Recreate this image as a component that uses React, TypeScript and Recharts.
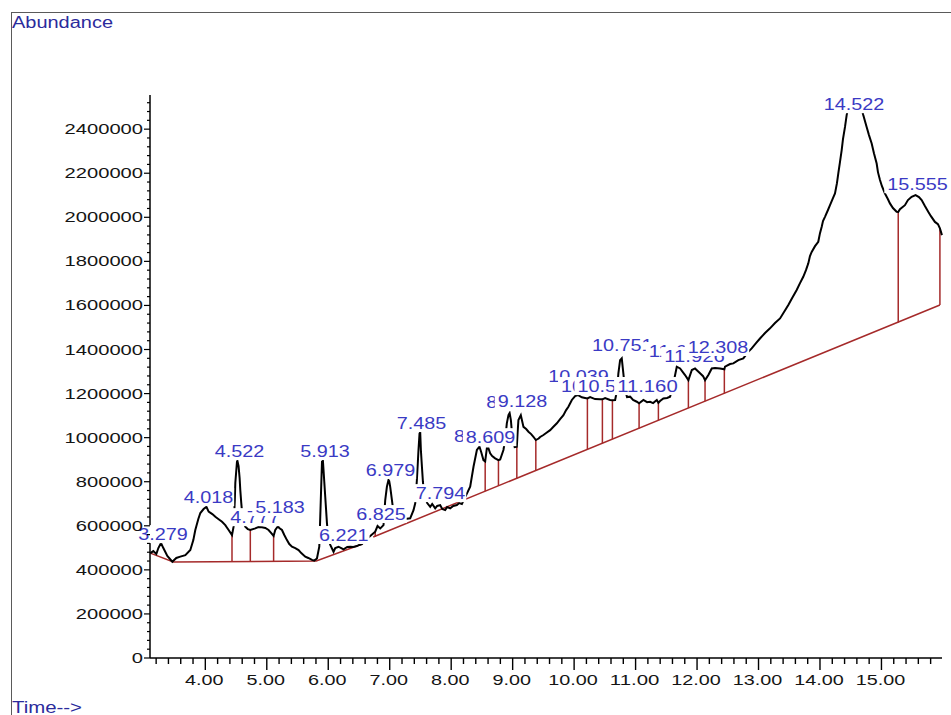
import React from 'react';
import { ComposedChart, Line, Scatter, XAxis, YAxis, ReferenceLine } from 'recharts';

// TIC trace, [retention time (min), abundance]
const trace: [number, number][] = [
  [3.106, 476000], [3.154, 485000], [3.203, 472000], [3.236, 499000], [3.279, 522000], [3.317, 499000],
  [3.382, 463000], [3.463, 437000], [3.528, 454000], [3.593, 460000], [3.675, 467000], [3.756, 490000],
  [3.805, 535000], [3.837, 581000], [3.886, 631000], [3.919, 658000], [3.972, 676000], [4.018, 686000],
  [4.054, 664000], [4.114, 653000], [4.163, 641000], [4.211, 631000], [4.272, 618000], [4.325, 603000],
  [4.379, 581000], [4.434, 558000], [4.46, 596000], [4.48, 717000], [4.488, 794000], [4.515, 891000],
  [4.522, 895000], [4.541, 871000], [4.558, 817000], [4.569, 762000], [4.585, 703000], [4.602, 649000],
  [4.634, 608000], [4.65, 596000], [4.691, 585000], [4.732, 581000], [4.813, 588000], [4.862, 594000],
  [4.922, 593000], [4.976, 590000], [5.029, 581000], [5.073, 567000], [5.111, 554000], [5.138, 581000],
  [5.183, 598000], [5.203, 590000], [5.247, 581000], [5.285, 558000], [5.328, 535000], [5.366, 517000],
  [5.41, 505000], [5.463, 499000], [5.517, 490000], [5.561, 476000], [5.626, 460000], [5.675, 454000],
  [5.735, 445000], [5.772, 442000], [5.816, 452000], [5.854, 505000], [5.87, 641000], [5.898, 891000],
  [5.913, 895000], [5.923, 853000], [5.951, 732000], [5.979, 611000], [6.005, 535000], [6.033, 513000],
  [6.086, 482000], [6.114, 499000], [6.167, 505000], [6.211, 499000], [6.249, 493000], [6.309, 504000],
  [6.358, 505000], [6.407, 504000], [6.467, 508000], [6.504, 513000], [6.548, 517000], [6.602, 535000],
  [6.683, 554000], [6.764, 573000], [6.802, 599000], [6.846, 588000], [6.899, 603000], [6.927, 717000],
  [6.954, 777000], [6.98, 808000], [6.992, 803000], [7.008, 777000], [7.036, 717000], [7.057, 671000],
  [7.106, 626000], [7.171, 635000], [7.252, 631000], [7.333, 634000], [7.387, 671000], [7.415, 702000],
  [7.442, 808000], [7.468, 944000], [7.485, 1019000], [7.496, 1025000], [7.507, 944000], [7.524, 868000],
  [7.54, 800000], [7.561, 740000], [7.61, 703000], [7.659, 686000], [7.691, 699000], [7.74, 679000],
  [7.772, 690000], [7.821, 694000], [7.854, 676000], [7.902, 671000], [7.935, 685000], [7.984, 679000],
  [8.033, 690000], [8.093, 694000], [8.13, 703000], [8.174, 699000], [8.228, 730000], [8.309, 777000],
  [8.363, 868000], [8.418, 944000], [8.46, 959000], [8.488, 935000], [8.525, 898000], [8.553, 892000],
  [8.58, 951000], [8.607, 951000], [8.634, 929000], [8.667, 916000], [8.715, 906000], [8.769, 898000],
  [8.797, 901000], [8.85, 944000], [8.878, 989000], [8.905, 1065000], [8.932, 1102000], [8.951, 1112000],
  [8.971, 1080000], [8.992, 1012000], [9.033, 957000], [9.068, 959000], [9.081, 1025000], [9.094, 1080000],
  [9.133, 1102000], [9.176, 1049000], [9.22, 1039000], [9.257, 1027000], [9.301, 1016000], [9.338, 1004000],
  [9.377, 989000], [9.423, 996000], [9.447, 1003000], [9.501, 1012000], [9.545, 1021000], [9.61, 1034000],
  [9.659, 1048000], [9.719, 1065000], [9.772, 1084000], [9.826, 1102000], [9.87, 1125000], [9.907, 1140000],
  [9.963, 1171000], [10.016, 1189000], [10.065, 1193000], [10.125, 1183000], [10.179, 1180000], [10.216, 1178000],
  [10.26, 1184000], [10.341, 1175000], [10.423, 1174000], [10.46, 1174000], [10.504, 1180000], [10.585, 1171000],
  [10.623, 1170000], [10.667, 1171000], [10.699, 1216000], [10.72, 1292000], [10.748, 1352000], [10.775, 1360000],
  [10.801, 1292000], [10.829, 1216000], [10.861, 1184000], [10.911, 1186000], [10.959, 1171000], [11.02, 1163000],
  [11.057, 1156000], [11.127, 1171000], [11.187, 1161000], [11.236, 1163000], [11.285, 1157000], [11.345, 1171000],
  [11.371, 1158000], [11.398, 1166000], [11.452, 1178000], [11.512, 1180000], [11.561, 1186000], [11.61, 1239000],
  [11.67, 1322000], [11.724, 1314000], [11.805, 1284000], [11.859, 1261000], [11.915, 1307000], [11.967, 1314000],
  [12.049, 1292000], [12.098, 1279000], [12.13, 1261000], [12.184, 1284000], [12.239, 1314000], [12.293, 1316000],
  [12.374, 1314000], [12.444, 1310000], [12.455, 1322000], [12.537, 1334000], [12.59, 1337000], [12.672, 1352000],
  [12.753, 1360000], [12.829, 1388000], [12.889, 1405000], [12.959, 1429000], [13.024, 1450000], [13.106, 1475000],
  [13.187, 1496000], [13.268, 1520000], [13.35, 1541000], [13.415, 1570000], [13.485, 1602000], [13.545, 1633000],
  [13.621, 1670000], [13.675, 1701000], [13.728, 1730000], [13.772, 1760000], [13.81, 1791000], [13.837, 1824000],
  [13.865, 1843000], [13.919, 1869000], [13.972, 1889000], [14.0, 1928000], [14.028, 1957000], [14.049, 1983000],
  [14.081, 2002000], [14.13, 2033000], [14.163, 2055000], [14.211, 2087000], [14.244, 2108000], [14.276, 2155000],
  [14.298, 2199000], [14.325, 2250000], [14.353, 2305000], [14.374, 2355000], [14.407, 2410000], [14.434, 2464000],
  [14.472, 2513000], [14.522, 2536000], [14.569, 2541000], [14.618, 2532000], [14.667, 2504000], [14.704, 2464000],
  [14.759, 2410000], [14.797, 2373000], [14.841, 2335000], [14.878, 2291000], [14.922, 2244000], [14.943, 2205000],
  [14.976, 2169000], [15.008, 2141000], [15.057, 2108000], [15.106, 2082000], [15.138, 2063000], [15.187, 2042000],
  [15.247, 2025000], [15.273, 2024000], [15.301, 2037000], [15.382, 2055000], [15.431, 2078000], [15.491, 2093000],
  [15.555, 2101000], [15.61, 2092000], [15.654, 2078000], [15.707, 2051000], [15.761, 2025000], [15.805, 2005000],
  [15.87, 1979000], [15.919, 1969000], [15.951, 1950000], [15.984, 1919000],
];

// integration baseline (null = break between the two stretches)
const baseTime = [3.106, 3.48, 5.805, 6.553, 6.64, 6.732, 15.951];
const baseAbund = [476000, 436000, 440000, 517000, null, 549000, 1602000];

// drop lines: time, trace level, baseline level
const dropTime = [4.434, 4.732, 5.111, 6.764, 8.553, 8.769, 9.068, 9.377, 10.216, 10.46, 10.623, 11.057, 11.371, 11.859, 12.13, 12.444, 15.273, 15.951];
const dropTop = [558000, 581000, 554000, 573000, 892000, 898000, 959000, 989000, 1178000, 1174000, 1170000, 1156000, 1158000, 1261000, 1261000, 1310000, 2024000, 1950000];
const dropBase = [436000, 437000, 438000, 549000, 757000, 781000, 815000, 851000, 946000, 974000, 993000, 1042000, 1078000, 1134000, 1165000, 1200000, 1523000, 1602000];

// peak labels (retention times) and the abundance their text sits on
const peakLabels = ['3.279', '4.018', '4.522', '4.777', '5.183', '5.913', '6.221', '6.825', '6.979', '7.485', '7.794', '8.418', '8.609', '8.941', '9.128', '10.039', '10.247', '10.514', '10.751', '11.160', '11.674', '11.926', '12.308', '14.522', '15.555'];
const labelLevel = [535000, 703000, 912000, 612000, 658000, 912000, 531000, 626000, 826000, 1039000, 721000, 980000, 975000, 1134000, 1139000, 1252000, 1207000, 1207000, 1393000, 1207000, 1366000, 1343000, 1384000, 2486000, 2123000];

const xMajor = [4, 5, 6, 7, 8, 9, 10, 11, 12, 13, 14, 15];
const xTickLabels = ['4.00', '5.00', '6.00', '7.00', '8.00', '9.00', '10.00', '11.00', '12.00', '13.00', '14.00', '15.00'];
const yMajor = [0, 200000, 400000, 600000, 800000, 1000000, 1200000, 1400000, 1600000, 1800000, 2000000, 2200000, 2400000];

const xTicks: number[] = [];
for (let i = 16; i <= 79; i++) xTicks.push(Math.round(i * 2) / 10);
const yTicks: number[] = [];
for (let v = 0; v <= 2520000; v += 40000) yTicks.push(v);

const traceData = trace.map(([t, a]) => ({ t, a }));
const baseData = baseTime.map((t, i) => ({ t, b: baseAbund[i] }));
const labelData = peakLabels.map((s, i) => ({ t: Number(s), a: labelLevel[i], text: s }));

const FONT = 'Arial, "Liberation Sans", sans-serif';
const RED = '#a52a2a';

const textW = (s: string, digit: number) =>
  s.split('').reduce((w, c) => w + (c === '.' ? digit / 2 : digit), 0);

const XTick = (p: any) => {
  const { x, y, payload } = p;
  const v: number = payload.value;
  const idx = xMajor.findIndex((m) => Math.abs(m - v) < 1e-6);
  const major = idx >= 0;
  return (
    <g>
      <line x1={x} x2={x} y1={y} y2={y + (major ? 12 : 6)} stroke="#000" strokeWidth={1.4} />
      {major && (
        <text x={x - 1} y={y + 27} textAnchor="middle" fontFamily={FONT} fontSize={15} fill="#141414"
          textLength={textW(xTickLabels[idx], 11)} lengthAdjust="spacingAndGlyphs">
          {xTickLabels[idx]}
        </text>
      )}
    </g>
  );
};

const YTick = (p: any) => {
  const { x, y, payload } = p;
  const v: number = payload.value;
  const major = yMajor.includes(v);
  const s = String(v);
  return (
    <g>
      <line x1={x - (major ? 6 : 3)} x2={x} y1={y} y2={y} stroke="#000" strokeWidth={1.2} />
      {major && (
        <text x={x - 7} y={y + 5} textAnchor="end" fontFamily={FONT} fontSize={15} fill="#141414"
          textLength={textW(s, 11.2)} lengthAdjust="spacingAndGlyphs">
          {s}
        </text>
      )}
    </g>
  );
};

const PeakLabel = (p: any) => {
  const { cx, cy, payload } = p;
  const s: string = payload.text;
  const w = textW(s, 11);
  const x = cx + 2;
  return (
    <g>
      <rect x={x - w / 2 - 3} y={cy - 15} width={w + 4} height={18} fill="#fff" />
      <text x={x} y={cy} textAnchor="middle" fontFamily={FONT} fontSize={16} fill="#3a3ac4"
        textLength={w} lengthAdjust="spacingAndGlyphs">
        {s}
      </text>
    </g>
  );
};

export default function App() {
  return (
    <div style={{ position: 'absolute', left: 0, top: 0, width: 951, height: 715, background: '#fff', overflow: 'hidden' }}>
      <svg width={951} height={715} style={{ position: 'absolute', left: 0, top: 0 }}>
        <line x1={11} x2={951} y1={12.5} y2={12.5} stroke="#5a5a5a" strokeWidth={1} />
        <line x1={11.5} x2={11.5} y1={12} y2={715} stroke="#5a5a5a" strokeWidth={1} />
        <text x={12} y={28} fontFamily={FONT} fontSize={16} fill="#2b2b9c" textLength={101} lengthAdjust="spacingAndGlyphs">Abundance</text>
        <text x={12} y={713} fontFamily={FONT} fontSize={16} fill="#2b2b9c" textLength={70} lengthAdjust="spacingAndGlyphs">Time--&gt;</text>
      </svg>
      <div style={{ position: 'absolute', left: 0, top: 0 }}>
        <ComposedChart width={951} height={715} margin={{ top: 95, right: 9, bottom: 0, left: 0 }}>
          <XAxis dataKey="t" type="number" domain={[3.1, 15.985]} ticks={xTicks} interval={0}
            height={57} tickSize={0} tickMargin={0} tickLine={false} tick={<XTick />}
            axisLine={{ stroke: '#000', strokeWidth: 1.5 }} />
          <YAxis type="number" domain={[0, 2555000]} ticks={yTicks} interval={0}
            width={150} tickSize={0} tickMargin={0} tickLine={false} tick={<YTick />}
            axisLine={{ stroke: '#000', strokeWidth: 1.5 }} />
          {dropTime.map((t, i) => (
            <ReferenceLine key={i} segment={[{ x: t, y: dropBase[i] }, { x: t, y: dropTop[i] }]}
              stroke={RED} strokeWidth={1.5} ifOverflow="visible" />
          ))}
          <Line data={baseData} dataKey="b" stroke={RED} strokeWidth={1.5} dot={false}
            connectNulls={false} isAnimationActive={false} />
          <Line data={traceData} dataKey="a" stroke="#000" strokeWidth={2} dot={false}
            isAnimationActive={false} />
          <Scatter data={labelData} dataKey="a" shape={PeakLabel} isAnimationActive={false} />
        </ComposedChart>
      </div>
    </div>
  );
}
